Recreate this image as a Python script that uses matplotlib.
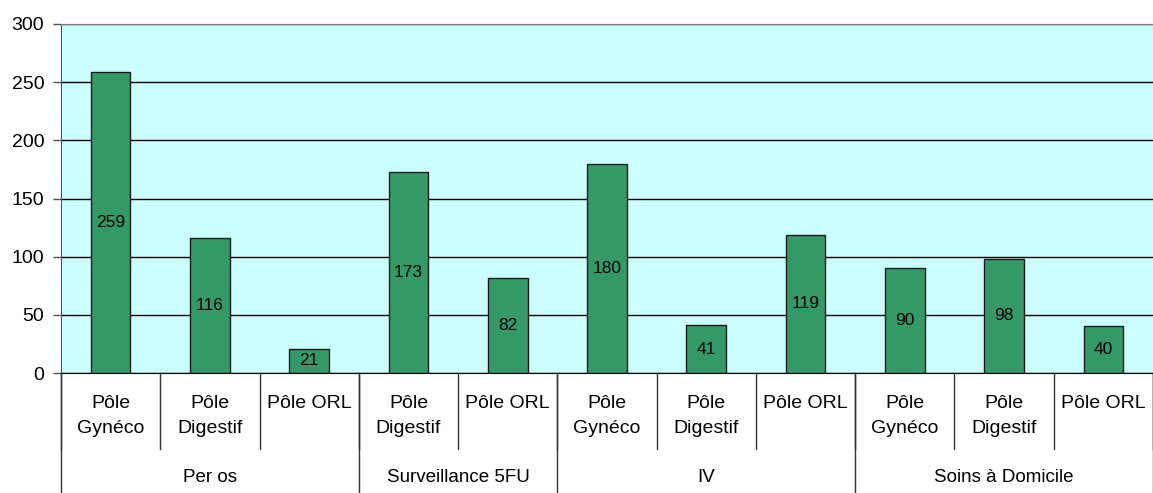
import matplotlib.pyplot as plt
import matplotlib.transforms as mtransforms

plt.rcParams['font.family'] = ['Liberation Sans', 'DejaVu Sans']

sub_labels = ['Pôle\nGynéco', 'Pôle\nDigestif', 'Pôle ORL',
              'Pôle\nDigestif', 'Pôle ORL',
              'Pôle\nGynéco', 'Pôle\nDigestif', 'Pôle ORL',
              'Pôle\nGynéco', 'Pôle\nDigestif', 'Pôle ORL']
values = [259, 116, 21, 173, 82, 180, 41, 119, 90, 98, 40]
groups = ['Per os', 'Surveillance 5FU', 'IV', 'Soins à Domicile']
group_sizes = [3, 2, 3, 3]

W, H = 1153, 493
fig = plt.figure(figsize=(W / 100, H / 100), dpi=100)
ax = fig.add_axes([61 / W, 1 - 373 / H, (W - 61) / W, (373 - 24) / H])
ax.set_facecolor('#CCFFFF')

x = list(range(len(values)))
ax.bar(x, values, width=0.4, color='#339966', edgecolor='#1a1a1a',
       linewidth=1, zorder=3)
for xi, v in zip(x, values):
    ax.text(xi, v / 2, str(v), ha='center', va='center', fontsize=12.5, zorder=4)

ax.set_xlim(-0.5, len(values) - 0.5)
ax.set_ylim(0, 300)
ax.set_yticks(range(0, 301, 50))
ax.yaxis.grid(True, color='black', linewidth=1, zorder=0)
ax.tick_params(axis='y', labelsize=14, length=6, width=1, color='#555555', pad=6)
ax.set_xticks([])

ax.spines['right'].set_visible(False)
ax.spines['top'].set_color('#808080')
ax.spines['left'].set_color('#555555')
ax.spines['bottom'].set_color('black')

trans = mtransforms.blended_transform_factory(ax.transData, fig.transFigure)

def fy(p):
    return 1 - p / H

# category labels and short dividers
for xi, lab in zip(x, sub_labels):
    ax.text(xi, fy(395), lab, transform=trans, ha='center', va='top',
            fontsize=14, linespacing=1.65)
for b in range(len(values) + 1):
    ax.plot([b - 0.5, b - 0.5], [fy(373), fy(449)], transform=trans,
            color='#333333', lw=1, clip_on=False)

# group labels and long dividers
start = 0
edges = [0]
for g, n in zip(groups, group_sizes):
    center = start + (n - 1) / 2
    ax.text(center, fy(478), g, transform=trans, ha='center', va='center',
            fontsize=13.5)
    start += n
    edges.append(start)
for e in edges:
    ax.plot([e - 0.5, e - 0.5], [fy(373), fy(493)], transform=trans,
            color='#333333', lw=1, clip_on=False)

fig.savefig('out.png', dpi=100)
